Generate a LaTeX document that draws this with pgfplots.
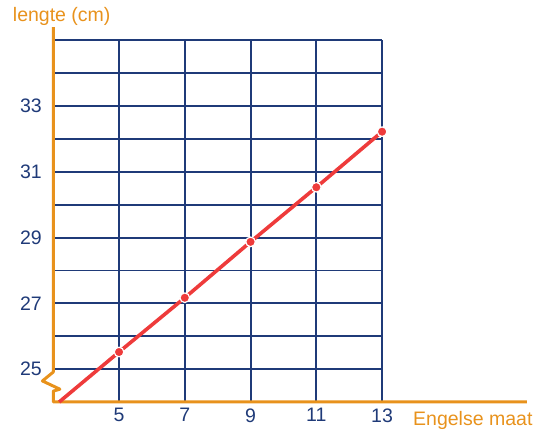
\documentclass[border=0pt]{standalone}
\usepackage{pgfplots}
\pgfplotsset{compat=1.18}
\usepackage{fontspec}
\setmainfont{Liberation Sans}
\definecolor{orng}{HTML}{E8921C}
\definecolor{navy}{HTML}{1F3A78}
\definecolor{rd}{HTML}{EE3B3B}
\begin{document}
\begin{tikzpicture}
\begin{axis}[
  scale only axis, width=328.75pt, height=361.625pt,
  xmin=3, xmax=13, ymin=24, ymax=35,
  clip=false,
  axis line style={draw=none},
  tick style={draw=none},
  xtick={5,7,9,11,13}, ytick={25,27,29,31,33},
  minor ytick={26,28,30,32,34,35},
  grid=both,
  major grid style={navy, line width=1.9pt},
  minor grid style={navy, line width=1.9pt},
  ticklabel style={font=\fontsize{19.5}{23}\selectfont, text=navy},
  /pgf/number format/assume math mode=true,
  xticklabel style={yshift=-3pt},
  yticklabel style={xshift=-8pt},
]
\path (axis cs:1.38,23.145) rectangle (axis cs:17.62,36.225);
\draw[orng, line width=3pt, line join=round] (axis cs:3,35.4) -- (axis cs:3,24.91) -- (axis cs:2.67,24.64) -- (axis cs:3.2,24.39) -- (axis cs:3,24.33) -- (axis cs:3,24) -- (axis cs:17.4,24);
\addplot[rd, line width=3.6pt, no marks] coordinates {(3.18,24) (5,25.52) (7,27.17) (9,28.87) (11,30.53) (13,32.22)};
\addplot[only marks, mark=*, mark size=4.8pt, mark options={fill=rd, draw=white, line width=1.2pt}] coordinates {(5,25.52) (7,27.17) (9,28.87) (11,30.53) (13,32.22)};
\node[anchor=base west, text=orng, font=\fontsize{19.5}{23}\selectfont, inner sep=0pt] at (axis cs:1.767,35.586) {lengte (cm)};
\node[anchor=base west, text=orng, font=\fontsize{19.5}{23}\selectfont, inner sep=0pt] at (axis cs:13.94,23.276) {Engelse maat};
\end{axis}
\end{tikzpicture}
\end{document}
